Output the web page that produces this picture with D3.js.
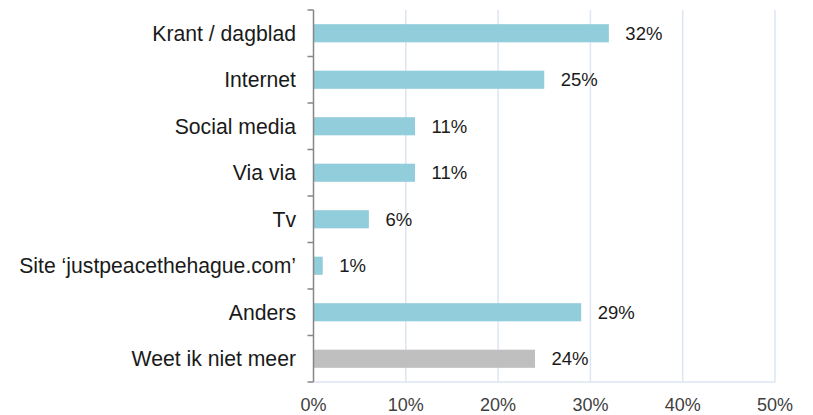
<!DOCTYPE html>
<html><head><meta charset="utf-8">
<script src="https://cdn.jsdelivr.net/npm/d3@7"></script>
<style>body{margin:0;background:#fff}svg{display:block}</style>
</head><body>
<svg id="c" width="813" height="415"></svg>
<script>
const categories = ["Krant / dagblad","Internet","Social media","Via via","Tv","Site \u2018justpeacethehague.com\u2019","Anders","Weet ik niet meer"];
const values = [32,25,11,11,6,1,29,24];
const barColors = ["#92cddc","#92cddc","#92cddc","#92cddc","#92cddc","#92cddc","#92cddc","#bfbfbf"];
const ticks = [0,10,20,30,40,50];

const svg = d3.select("#c");
const m = {left:313.5, right:775, top:10, bottom:382};
const x = d3.scaleLinear().domain([0,50]).range([m.left, m.right]);
const y = d3.scaleBand().domain(categories).range([m.top, m.bottom]).paddingInner(0.61).paddingOuter(0.305);
const yb = d3.scaleBand().domain(categories).range([m.top, m.bottom]);
const font = "Liberation Sans, Arial, sans-serif";

// grid
svg.append("g").selectAll("line").data(ticks.slice(1)).join("line")
  .attr("x1", d=>x(d)).attr("x2", d=>x(d)).attr("y1", m.top).attr("y2", m.bottom)
  .attr("stroke", "#dce6f2").attr("stroke-width", 1.5);
svg.append("line").attr("x1", m.left).attr("x2", m.right).attr("y1", m.bottom).attr("y2", m.bottom)
  .attr("stroke", "#dce6f2").attr("stroke-width", 1.5);

// bars
svg.append("g").selectAll("rect").data(values).join("rect")
  .attr("x", x(0)).attr("y", (d,i)=>y(categories[i]))
  .attr("width", d=>x(d)-x(0)).attr("height", y.bandwidth())
  .attr("fill", (d,i)=>barColors[i]);

// value labels
svg.append("g").selectAll("text").data(values).join("text")
  .attr("x", d=>x(d)+16.5).attr("y", (d,i)=>y(categories[i])+y.bandwidth()/2)
  .attr("dy","0.36em").attr("font-family",font)
  .attr("font-size", 18.5).attr("fill","#1a1a1a").text(d=>d+"%");

// y axis
const ya = svg.append("g");
ya.append("line").attr("x1", m.left).attr("x2", m.left).attr("y1", m.top).attr("y2", m.bottom)
  .attr("stroke","#868686").attr("stroke-width",1.5);
const bounds = categories.map(c=>yb(c)).concat([m.bottom]);
ya.selectAll("line.t").data(bounds).join("line").attr("class","t")
  .attr("x1", m.left-6).attr("x2", m.left).attr("y1", d=>d).attr("y2", d=>d)
  .attr("stroke","#868686").attr("stroke-width",1.5);
ya.selectAll("text").data(categories).join("text")
  .attr("x", 296).attr("y", d=>yb(d)+yb.bandwidth()/2).attr("dy","0.36em")
  .attr("text-anchor","end").attr("font-family",font)
  .attr("font-size", 21.2).attr("fill","#1a1a1a").text(d=>d);

// x tick labels
svg.append("g").selectAll("text").data(ticks).join("text")
  .attr("x", d=>x(d)).attr("y", 405).attr("dy","0.36em").attr("text-anchor","middle")
  .attr("font-family",font).attr("font-size",18).attr("fill","#404040")
  .text(d=>d+"%");
</script>
</body></html>
